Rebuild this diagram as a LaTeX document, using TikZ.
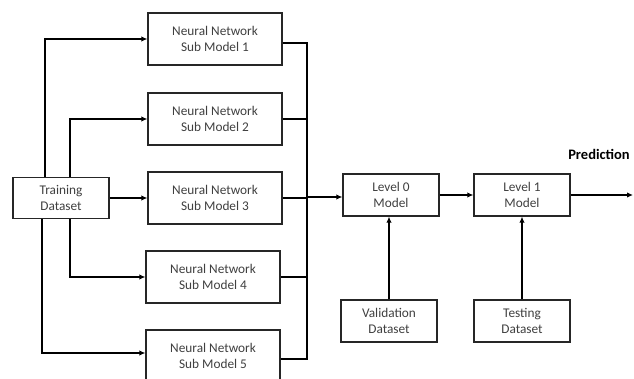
\documentclass[tikz,border=0pt]{standalone}
\usepackage{fontspec}
\setmainfont{Carlito}
\usetikzlibrary{arrows.meta}
\begin{document}
\begin{tikzpicture}[x=1pt,y=-1pt,
  box/.style={draw=black!85,line width=1.3pt,fill=white,align=center,inner sep=0pt,
    font=\fontsize{13.3}{16}\selectfont,text=black!75},
  nnbox/.style={box,minimum width=134pt,minimum height=52pt},
  smallbox/.style={box,minimum width=96pt,minimum height=42pt},
  conn/.style={line width=2pt,black},
  arr/.style={conn,-{Latex[length=6pt,width=5.5pt]}}]
\useasboundingbox (0,0) rectangle (634,379);
\node[smallbox,minimum height=41pt] (train) at (61,198) {Training\\Dataset};
\node[nnbox] (nn1) at (215,39) {Neural Network\\Sub Model 1};
\node[nnbox] (nn2) at (215,119) {Neural Network\\Sub Model 2};
\node[nnbox] (nn3) at (215,198) {Neural Network\\Sub Model 3};
\node[nnbox] (nn4) at (213,277) {Neural Network\\Sub Model 4};
\node[nnbox] (nn5) at (213,356) {Neural Network\\Sub Model 5};
\node[smallbox] (l0) at (391,195) {Level 0\\Model};
\node[smallbox] (l1) at (522,195) {Level 1\\Model};
\node[smallbox] (val) at (389,321) {Validation\\Dataset};
\node[smallbox] (test) at (522,321) {Testing\\Dataset};
\node[font=\fontsize{14.5}{16}\selectfont\bfseries,inner sep=0pt] (pred) at (599,154) {Prediction};
\coordinate (bus) at (307,197);
\coordinate (out) at (633,195);
% training to sub models
\draw[arr] ([xshift=-16pt]train.north) |- (nn1.west);
\draw[arr] ([xshift=9pt]train.north) |- (nn2.west);
\draw[arr] (train.east) -- (train.east -| nn3.west);
\draw[arr] ([xshift=9pt]train.south) |- (nn4.west);
\draw[arr] ([xshift=-19pt]train.south) |- ([yshift=3pt]nn5.west);
% sub models to bus
\draw[conn] ([yshift=-4pt]nn1.east) -- ([yshift=-4pt]nn1.east -| bus);
\draw[conn] (nn2.east) -- (nn2.east -| bus);
\draw[conn] (nn3.east) -- (nn3.east -| bus);
\draw[conn] (nn4.east) -- (nn4.east -| bus);
\draw[conn] ([yshift=-3pt]nn5.east) -- ([yshift=-3pt]nn5.east -| bus);
\draw[conn,line cap=rect] ([yshift=-4pt]nn1.east -| bus) -- ([yshift=-3pt]nn5.east -| bus);
\draw[arr] (bus) -- (bus -| l0.west);
% level models
\draw[arr] (l0.east) -- (l1.west);
\draw[arr] (l1.east) -- (out);
\draw[arr] (val.north) -- (val.north |- l0.south);
\draw[arr] (test.north) -- (test.north |- l1.south);
\end{tikzpicture}
\end{document}
